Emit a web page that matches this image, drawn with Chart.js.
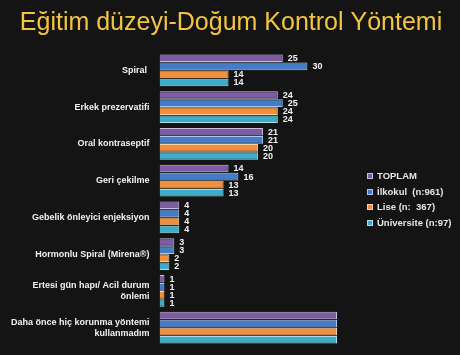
<!DOCTYPE html>
<html>
<head>
<meta charset="utf-8">
<script src="https://cdn.jsdelivr.net/npm/chart.js@4.4.1/dist/chart.umd.min.js"></script>
<style>
  html, body { margin: 0; padding: 0; background: #141414; }
  #wrap { width: 460px; height: 355px; position: relative; }
  #legend { position: absolute; left: 367px; top: 168px; font: bold 9.5px "Liberation Sans", sans-serif; color: #e6e6e6; }
  #legend div { height: 15.5px; line-height: 15.5px; white-space: pre; }
  #legend span { display: inline-block; width: 4px; height: 4px; margin-right: 4px; vertical-align: 0px; border: 1px solid; }
</style>
</head>
<body>
<div id="wrap"><canvas id="myChart"></canvas><div id="legend"></div></div>
<script>
const categories = [
    'Spiral ',
    'Erkek prezervatifi',
    'Oral kontraseptif',
    'Geri çekilme',
    'Gebelik önleyici enjeksiyon',
    'Hormonlu Spiral (Mirena®)',
    ['Ertesi gün hapı/ Acil durum', 'önlemi'],
    ['Daha önce hiç korunma yöntemi', 'kullanmadım']
];
const seriesNames = ['TOPLAM', 'İlkokul  (n:961)', 'Lise (n:  367)', 'Üniversite (n:97)'];
const toplam     = [25, 24, 21, 14, 4, 3, 1, 36];
const ilkokul    = [30, 25, 21, 16, 4, 3, 1, 36];
const lise       = [14, 24, 20, 13, 4, 2, 1, 36];
const universite = [14, 24, 20, 13, 4, 2, 1, 36];
const xMax = 36;

const fills = ['#7d5ca2', '#457cc6', '#f0903e', '#3eaec8'];
const edges = ['#c9bde0', '#a9c6ee', '#f9cfa6', '#a9dfec'];

// value labels to the right of each bar (bars cut at the axis end get none)
const valueLabels = {
    id: 'valueLabels',
    afterDatasetsDraw(chart) {
        const ctx = chart.ctx;
        ctx.save();
        ctx.font = 'bold 9px "Liberation Sans"';
        ctx.fillStyle = '#f2f2f2';
        ctx.textBaseline = 'middle';
        ctx.textAlign = 'left';
        chart.data.datasets.forEach((ds, i) => {
            const meta = chart.getDatasetMeta(i);
            meta.data.forEach((bar, j) => {
                if (ds.data[j] >= xMax) return;
                ctx.fillText(ds.data[j], bar.x + 5, bar.y + 0.5);
            });
        });
        ctx.restore();
    }
};

const allData = [toplam, ilkokul, lise, universite];
const ctx = document.getElementById('myChart').getContext('2d');
const myChart = new Chart(ctx, {
    type: 'bar',
    data: {
        labels: categories,
        datasets: allData.map((d, i) => ({
            label: seriesNames[i],
            data: d,
            backgroundColor: fills[i],
            borderColor: edges[i],
            borderWidth: 1,
            barPercentage: 0.94,
            categoryPercentage: 0.88
        }))
    },
    options: {
        indexAxis: 'y',
        responsive: true,
        maintainAspectRatio: false,
        animation: false,
        layout: {
            padding: { left: 10, right: 8, top: 0, bottom: 9 }
        },
        plugins: {
            title: {
                display: true,
                text: 'Eğitim düzeyi-Doğum Kontrol Yöntemi',
                color: '#f3c443',
                font: { family: 'Liberation Sans', size: 25, weight: 'normal' },
                padding: { top: 8, bottom: 14 }
            },
            legend: { display: false },
            tooltip: { enabled: false }
        },
        scales: {
            x: {
                display: false,
                min: 0,
                max: xMax
            },
            y: {
                grid: { display: false },
                border: { display: false },
                ticks: {
                    color: '#f2f2f2',
                    padding: 2,
                    font: { family: 'Liberation Sans', size: 9, weight: 'bold' }
                },
                afterFit(scale) {
                    scale.width = 149.5;
                }
            },
            // empty space on the right, where the legend sits
            gap: {
                type: 'category',
                position: 'right',
                display: true,
                grid: { display: false },
                border: { display: false },
                ticks: { display: false },
                afterFit(scale) {
                    scale.width = 115;
                }
            }
        }
    },
    plugins: [valueLabels]
});

// legend built from the datasets
const legendEl = document.getElementById('legend');
myChart.data.datasets.forEach(ds => {
    const row = document.createElement('div');
    const sw = document.createElement('span');
    sw.style.background = ds.backgroundColor;
    sw.style.borderColor = ds.borderColor;
    row.appendChild(sw);
    row.appendChild(document.createTextNode(ds.label));
    legendEl.appendChild(row);
});
</script>
</body>
</html>
